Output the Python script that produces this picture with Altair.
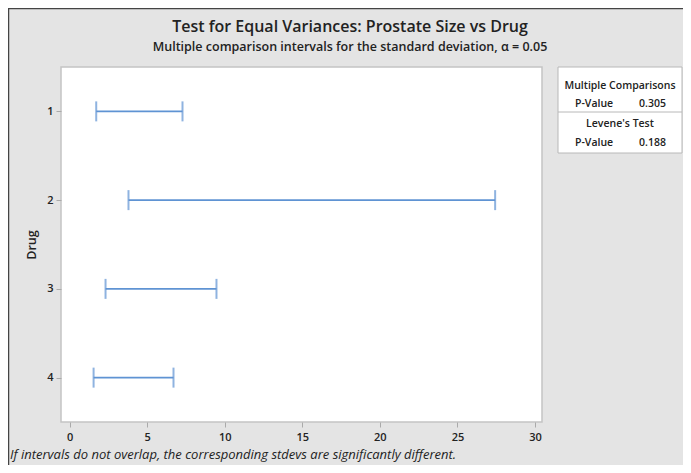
import altair as alt
import pandas as pd

# ---- data ----
drugs = [1, 2, 3, 4]
lower = [1.72, 3.80, 2.32, 1.55]
upper = [7.28, 27.43, 9.47, 6.70]

x_ticks = [0, 5, 10, 15, 20, 25, 30]
y_ticks = [1, 2, 3, 4]

legend_head1 = ["Multiple Comparisons"]
legend_head2 = ["Levene's Test"]
pv_labels = ["P-Value", "P-Value"]
pv_values = ["0.305", "0.188"]

title_text = ["Test for Equal Variances: Prostate Size vs Drug"]
subtitle_text = ["Multiple comparison intervals for the standard deviation, \u03b1 = 0.05"]
footnote = ["If intervals do not overlap, the corresponding stdevs are significantly different."]

df = pd.DataFrame({"Drug": drugs, "lo": lower, "hi": upper})

FONT = "Open Sans"
BLUE = "#5f93d3"
TXT = "#222222"

xs = alt.Scale(domain=[-0.55, 30.45], nice=False, zero=False)
ys = alt.Scale(domain=[0.5, 4.5], reverse=True, nice=False, zero=False)

xaxis = alt.Axis(values=x_ticks, grid=False, domain=False, title=None, tickColor="#aaaaaa",
                 tickSize=5, labelFont=FONT, labelFontSize=11, labelFontWeight=600,
                 labelColor=TXT, labelPadding=4, format="d")
yaxis = alt.Axis(values=y_ticks, grid=False, domain=False, title="Drug", tickColor="#aaaaaa",
                 tickSize=5, labelFont=FONT, labelFontSize=11, labelFontWeight=600,
                 labelColor=TXT, labelPadding=3, format="d", titleFont=FONT, titleFontSize=12.5,
                 titleFontWeight=600, titleColor=TXT, titlePadding=8)

base = alt.Chart(df)

rules = base.mark_rule(color=BLUE, strokeWidth=1.8).encode(
    x=alt.X("lo:Q", scale=xs, axis=xaxis),
    x2="hi:Q",
    y=alt.Y("Drug:Q", scale=ys, axis=yaxis),
)
tick_lo = base.mark_tick(color=BLUE, orient="vertical", size=20, thickness=2).encode(
    x=alt.X("lo:Q", scale=xs), y=alt.Y("Drug:Q", scale=ys))
tick_hi = base.mark_tick(color=BLUE, orient="vertical", size=20, thickness=2).encode(
    x=alt.X("hi:Q", scale=xs), y=alt.Y("Drug:Q", scale=ys))

# legend box (in pixel coordinates relative to plot area)
one = pd.DataFrame({"k": [0]})
box = alt.Chart(one).mark_rect(fill="white", stroke="#b8b8b8", strokeWidth=1).encode(
    x=alt.value(497), x2=alt.value(621), y=alt.value(0), y2=alt.value(86))
sep = alt.Chart(one).mark_rule(color="#b8b8b8", strokeWidth=1).encode(
    x=alt.value(497), x2=alt.value(621), y=alt.value(45))

LF = 10.5
def txt(values, x, y, align, size=LF, weight=600, style="normal"):
    return alt.Chart(pd.DataFrame({"t": values})).mark_text(
        font=FONT, fontSize=size, fontWeight=weight, fontStyle=style, color=TXT,
        align=align, baseline="middle"
    ).encode(text="t:N", x=alt.value(x), y=alt.value(y))

h1 = txt(legend_head1, 559, 19, "center")
h2 = txt(legend_head2, 559, 57, "center")
pv1 = txt([pv_labels[0]], 514, 37, "left")
pv2 = txt([pv_labels[1]], 514, 76, "left")
v1 = txt([pv_values[0]], 605, 37, "right")
v2 = txt([pv_values[1]], 605, 76, "right")

title = txt(title_text, 289, -40, "center", size=16, weight=600)
subtitle = txt(subtitle_text, 289, -20, "center", size=12.5, weight=600)

foot = txt(footnote, -51, 388, "left", size=13, weight=400, style="italic")

# outer frame lines (top and left)
top_line = alt.Chart(one).mark_rule(color="#444444", strokeWidth=1.5).encode(
    x=alt.value(-53), x2=alt.value(622), y=alt.value(-58.5))
left_line = alt.Chart(one).mark_rule(color="#444444", strokeWidth=1.5).encode(
    x=alt.value(-52.5), y=alt.value(-59), y2=alt.value(398))

chart = alt.layer(
    rules, tick_lo, tick_hi, box, sep, h1, h2, pv1, pv2, v1, v2, title, subtitle, foot,
    top_line, left_line
).properties(
    width=481,
    height=355,
    autosize=alt.AutoSizeParams(type="none"),
    padding={"left": 53, "top": 59, "right": 141, "bottom": 43},
    background="#e4e4e4",
).configure_view(fill="white", stroke="#c4c4c4", strokeWidth=1.5)

chart.save("out.html", embed_options={"renderer": "svg", "actions": False})
